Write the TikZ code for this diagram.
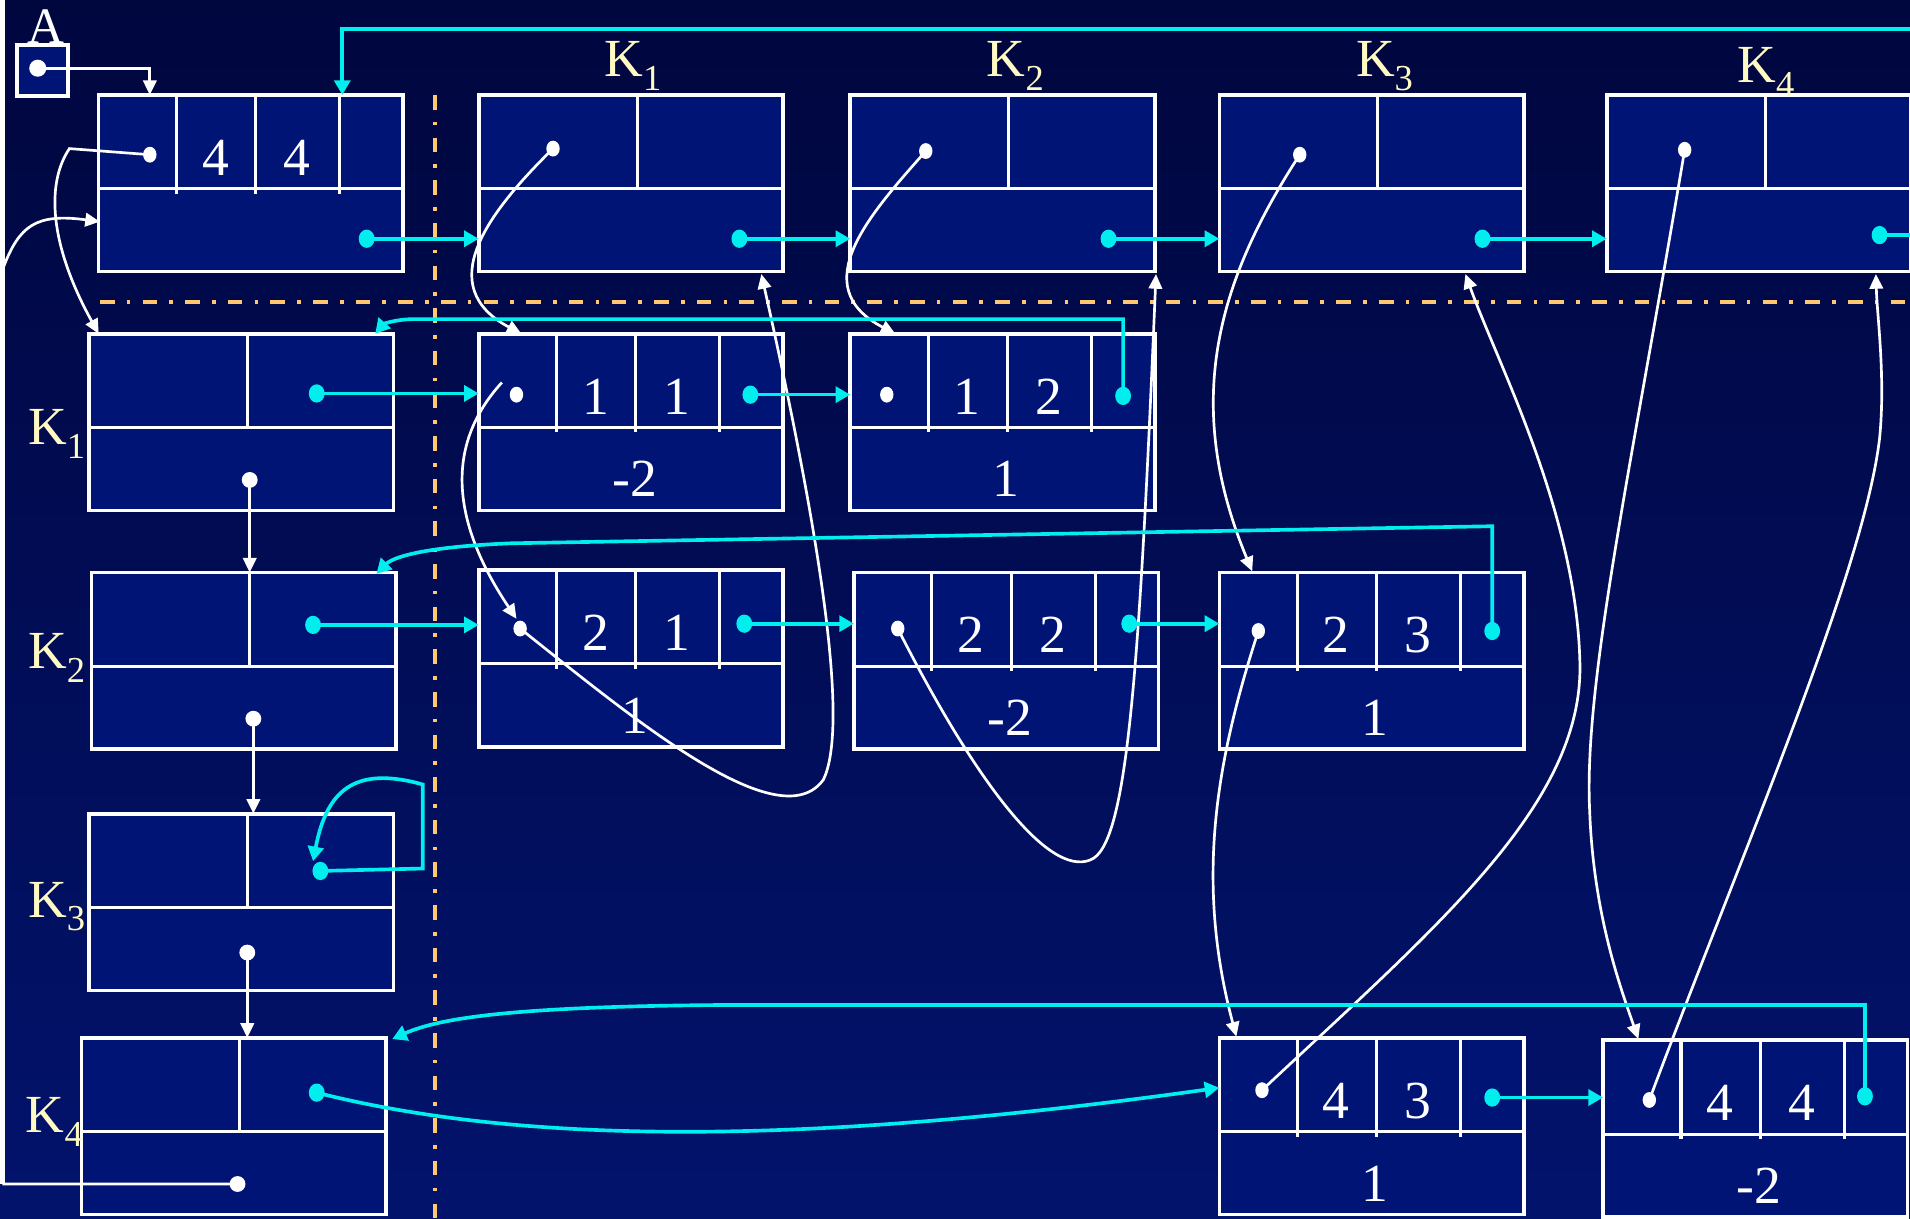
\documentclass[tikz,border=0pt]{standalone}
\usepackage{fontspec}
\setmainfont{Liberation Serif}
\usetikzlibrary{arrows.meta,shapes.geometric}
\definecolor{bgtop}{RGB}{0,6,62}
\definecolor{bgbot}{RGB}{2,19,108}
\definecolor{boxfill}{RGB}{0,20,118}
\definecolor{cyn}{RGB}{0,238,238}
\definecolor{dashc}{RGB}{255,200,110}
\definecolor{klab}{RGB}{255,250,195}
\tikzset{
 boxnode/.style={draw=white, line width=3pt, fill=boxfill, minimum width=250pt, minimum height=145pt, anchor=north west, inner sep=0pt, outer sep=0pt},
 divline/.style={draw=white, line width=2.5pt},
 numtxt/.style={text=white, anchor=base, inner sep=0pt, font=\fontsize{44}{44}\selectfont},
 klabel/.style={text=klab, anchor=base west, inner sep=0pt, font=\fontsize{44}{44}\selectfont},
 wdot/.style={ellipse, fill=white, minimum width=11pt, minimum height=13pt, inner sep=0pt},
 cdot/.style={ellipse, fill=cyn, minimum width=13pt, minimum height=15pt, inner sep=0pt},
 wline/.style={draw=white, line width=2.2pt},
 warr/.style={wline, -{Triangle[length=12pt,width=11pt]}},
 cline/.style={draw=cyn, line width=3pt},
 carr/.style={cline, -{Triangle[length=12pt,width=13pt]}},
 dashdot line/.style={draw=dashc, line width=3.3pt, dash pattern=on 12pt off 10pt on 3pt off 10pt},
}
\newcommand\Klab[1]{K\raisebox{-11pt}{\fontsize{30}{30}\selectfont #1}}
\newcommand\QuadBox[6]{%
 \node[boxnode] (#1) at (#2,#3) {};
 \draw[divline] (#2,#3+77) -- ++(250,0);
 \foreach \dx in {64,129,198} {\draw[divline] (#2+\dx,#3) -- (#2+\dx,#3+81);}
 \node[numtxt] (#1a) at (#2+96,#3+66) {#4};
 \node[numtxt] (#1b) at (#2+163,#3+66) {#5};
 \node[numtxt] (#1v) at (#2+128,#3+134) {#6};
}
\newcommand\DuoBox[3]{%
 \node[boxnode] (#1) at (#2,#3) {};
 \draw[divline] (#2,#3+77) -- ++(250,0);
 \draw[divline] (#2+130,#3) -- (#2+130,#3+77);
}
\begin{document}
\begin{tikzpicture}[x=1pt,y=-1pt]
\useasboundingbox (0,0) rectangle (1568,1000);
\shade[top color=bgtop, bottom color=bgbot] (0,0) rectangle (1568,1000);
\begin{scope}
\clip (0,0) rectangle (1568,1000);
\fill[white] (0,0) rectangle (4.5,972);
% dash-dot separators
\draw[dashdot line] (357,78) -- (357,1000);
\draw[dashdot line] (82,248) -- (1568,248);
% A
\node[boxnode, minimum width=42pt, minimum height=42pt, anchor=center] (Abox) at (35,58) {};
\node[text=white, anchor=base, inner sep=0pt, font=\fontsize{42}{42}\selectfont] (Alab) at (38,36) {A};
% head and column heads
\QuadBox{H}{81}{78}{4}{4}{}
\DuoBox{C1}{393}{78}
\DuoBox{C2}{698}{78}
\DuoBox{C3}{1001}{78}
\DuoBox{C4}{1319}{78}
% row heads
\DuoBox{R1}{73}{274}
\DuoBox{R2}{75}{470}
\DuoBox{R3}{73}{668}
\DuoBox{R4}{67}{852}
% element nodes
\QuadBox{N11}{393}{274}{1}{1}{-2}
\QuadBox{N12}{698}{274}{1}{2}{1}
\QuadBox{N21}{393}{468}{2}{1}{1}
\QuadBox{N22}{701}{470}{2}{2}{-2}
\QuadBox{N23}{1001}{470}{2}{3}{1}
\QuadBox{N43}{1001}{852}{4}{3}{1}
\QuadBox{N44}{1316}{854}{4}{4}{-2}
% labels
\node[klabel] (kc1) at (496,63) {\Klab{1}};
\node[klabel] (kc2) at (810,63) {\Klab{2}};
\node[klabel] (kc3) at (1113,63) {\Klab{3}};
\node[klabel] (kc4) at (1426,68) {\Klab{4}};
\node[klabel] (kr1) at (23,365) {\Klab{1}};
\node[klabel] (kr2) at (23,549) {\Klab{2}};
\node[klabel] (kr3) at (23,753) {\Klab{3}};
\node[klabel] (kr4) at (21,930) {\Klab{4}};
% dots
\node[wdot, minimum width=14pt, minimum height=14pt] (Adot) at (31,56) {};
\node[wdot] (hdot) at (123,127) {};
\node[cdot] (hcdot) at (301,196) {};
\node[wdot] (c1w) at (454,122) {};
\node[cdot] (c1c) at (607,196) {};
\node[wdot] (c2w) at (760,124) {};
\node[cdot] (c2c) at (910,196) {};
\node[wdot] (c3w) at (1067,127) {};
\node[cdot] (c3c) at (1217,196) {};
\node[wdot] (c4w) at (1383,123) {};
\node[cdot] (c4c) at (1543,193) {};
\node[cdot] (r1c) at (260,323) {};
\node[wdot, minimum width=13pt] (r1w) at (205,394) {};
\node[cdot] (r2c) at (257,513) {};
\node[wdot, minimum width=13pt] (r2w) at (208,590) {};
\node[cdot] (r3c) at (263,715) {};
\node[wdot, minimum width=13pt] (r3w) at (203,782) {};
\node[cdot] (r4c) at (260,897) {};
\node[wdot, minimum width=13pt] (r4w) at (195,972) {};
\node[wdot] (n11w) at (424,324) {};
\node[cdot] (n11c) at (616,324) {};
\node[wdot] (n12w) at (728,324) {};
\node[cdot] (n12c) at (922,325) {};
\node[wdot] (n21w) at (427,516) {};
\node[cdot] (n21c) at (611,512) {};
\node[wdot] (n22w) at (737,516) {};
\node[cdot] (n22c) at (927,512) {};
\node[wdot] (n23w) at (1033,518) {};
\node[cdot] (n23c) at (1225,518) {};
\node[wdot] (n43w) at (1036,895) {};
\node[cdot] (n43c) at (1225,901) {};
\node[wdot] (n44w) at (1354,903) {};
\node[cdot] (n44c) at (1531,900) {};
% helper coordinates
\coordinate (Atgt) at (123,78);
\coordinate (topR) at (1570,24);
\coordinate (hTop) at (281,78);
\coordinate (c4out) at (1570,193);
\coordinate (hk) at (57,122);
\coordinate (r1tgt) at (81,274);
\coordinate (rl1) at (3,972);
\coordinate (rl2) at (3,219);
\coordinate (hIn) at (82,182);
\coordinate (n11s) at (412,314);
\coordinate (n43in) at (1001,893);
% ---- white connectors ----
\draw[warr] (Adot.center) -| (Atgt);
\draw[warr] (hdot.center) -- (hk) .. controls (38,150) and (40,200) .. (r1tgt);
\draw[warr] (r4w.center) -- (rl1) -- (rl2) .. controls (16,185) and (30,175) .. (hIn);
\draw[warr] (r1w.center) -- (r1w.center |- R2.north);
\draw[warr] (r2w.center) -- (r2w.center |- R3.north);
\draw[warr] (r3w.center) -- (r3w.center |- R4.north);
% column 1
\draw[warr] (c1w.center) .. controls (400,175) and (355,235) .. (428,274);
\draw[warr] (n11s) .. controls (370,360) and (365,420) .. (424,508);
\draw[warr] (n21w.center) .. controls (520,590) and (640,690) .. (676,640) .. controls (695,600) and (680,470) .. (625,225);
% column 2
\draw[warr] (c2w.center) .. controls (715,175) and (660,235) .. (735,274);
\draw[warr] (n22w.center) .. controls (800,640) and (860,720) .. (895,706) .. controls (925,695) and (935,560) .. (949,225);
% column 3
\draw[warr] (c3w.center) .. controls (1000,230) and (970,330) .. (1028,469);
\draw[warr] (n23w.center) .. controls (1000,620) and (980,720) .. (1015,851);
\draw[warr] (n43w.center) .. controls (1180,760) and (1300,660) .. (1297,544) .. controls (1294,420) and (1230,300) .. (1203,225);
% column 4
\draw[warr] (c4w.center) .. controls (1340,380) and (1300,560) .. (1305,665) .. controls (1308,750) and (1330,810) .. (1345,853);
\draw[warr] (n44w.center) .. controls (1430,700) and (1530,470) .. (1543,360) .. controls (1548,310) and (1541,260) .. (1540,225);
% ---- cyan connectors ----
\draw[carr] (topR) -| (hTop);
\draw[cline] (c4c.center) -- (c4out);
\draw[carr] (hcdot.center) -- (hcdot.center -| C1.west);
\draw[carr] (c1c.center) -- (c1c.center -| C2.west);
\draw[carr] (c2c.center) -- (c2c.center -| C3.west);
\draw[carr] (c3c.center) -- (c3c.center -| C4.west);
\draw[carr] (r1c.center) -- (r1c.center -| N11.west);
\draw[carr] (n11c.center) -- (n11c.center -| N12.west);
\draw[carr] (r2c.center) -- (r2c.center -| N21.west);
\draw[carr] (n21c.center) -- (n21c.center -| N22.west);
\draw[carr] (n22c.center) -- (n22c.center -| N23.west);
\draw[carr] (n43c.center) -- (n43c.center -| N44.west);
\draw[carr] (n12c.center) |- (340,262) .. controls (325,262) and (315,266) .. (308,274);
\draw[carr] (n23c.center) -- (1225,432) -- (420,446) .. controls (345,449) and (322,458) .. (309,471);
\draw[carr] (n44c.center) |- (600,825) .. controls (420,826) and (360,836) .. (322,853);
\draw[carr] (r3c.center) -- (347,713) -- (347,644) .. controls (290,628) and (268,650) .. (257,707);
\draw[carr] (r4c.center) .. controls (450,945) and (700,935) .. (n43in);
\end{scope}
\end{tikzpicture}
\end{document}
